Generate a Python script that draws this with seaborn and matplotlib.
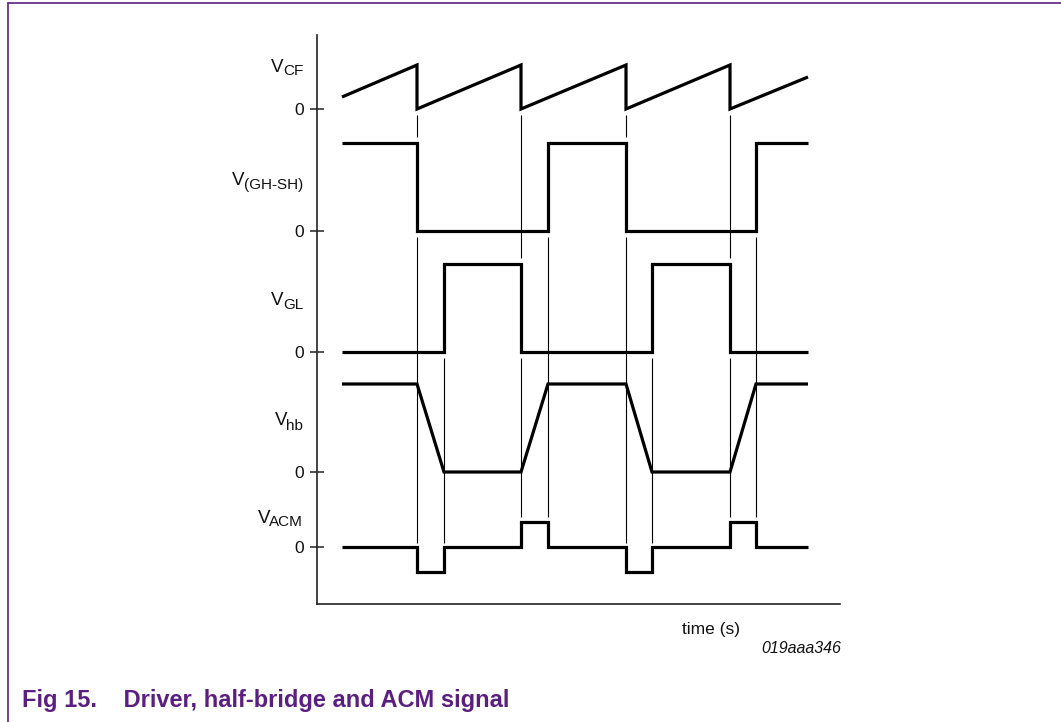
import numpy as np
import pandas as pd
import matplotlib
matplotlib.use("Agg")
import matplotlib.pyplot as plt
from matplotlib.lines import Line2D
import seaborn as sns

# ---- signal data (time axis in arbitrary units, amplitudes normalised) ----
vcf_t = [25, 100, 100, 204, 204, 309, 309, 413, 413, 491]
vcf_v = [12, 44, 0, 44, 0, 44, 0, 44, 0, 32]

gh_t = [25, 100, 100, 231, 231, 309, 309, 439, 439, 491]
gh_v = [88, 88, 0, 0, 88, 88, 0, 0, 88, 88]

gl_t = [25, 127, 127, 204, 204, 335, 335, 413, 413, 491]
gl_v = [0, 0, 88, 88, 0, 0, 88, 88, 0, 0]

hb_t = [25, 100, 127, 204, 231, 309, 335, 413, 439, 491]
hb_v = [88, 88, 0, 0, 88, 88, 0, 0, 88, 88]

acm_t = [25, 100, 100, 127, 127, 204, 204, 231, 231, 309, 309, 335, 335, 413, 413, 439, 439, 491]
acm_v = [0, 0, -25, -25, 0, 0, 25, 25, 0, 0, -25, -25, 0, 0, 25, 25, 0, 0]

signals = ["VCF", "GH", "GL", "HB", "ACM"]
sub_labels = ["CF", "(GH-SH)", "GL", "hb", "ACM"]

# switching instants
gh_fall = [100, 309]
gl_rise = [127, 335]
gl_fall = [204, 413]
gh_rise = [231, 439]

# ---- layout: vertical lane of each trace (zero level) ----
lane_zero = dict(VCF=495, GH=373, GL=252, HB=132, ACM=57)
high = 88
acm_step = 25

frames = []
for name, t, v in zip(signals, [vcf_t, gh_t, gl_t, hb_t, acm_t],
                      [vcf_v, gh_v, gl_v, hb_v, acm_v]):
    frames.append(pd.DataFrame({"t": t, "y": np.array(v) + lane_zero[name],
                                "signal": name, "order": range(len(t))}))
df = pd.concat(frames, ignore_index=True)

sns.set_theme(style="white")
plt.rcParams["font.family"] = ["Liberation Sans", "DejaVu Sans"]

W, H = 1061, 722
fig = plt.figure(figsize=(W / 100, H / 100), dpi=100)
ax = fig.add_axes([317 / W, (H - 604) / H, 523 / W, 569 / H])

# thin timing guides
g = 6
for t in gh_fall:
    ax.vlines(t, lane_zero["GH"] + high + g, lane_zero["VCF"] - g, color="black", lw=0.8)
    ax.vlines(t, lane_zero["ACM"] + 4, lane_zero["GH"] - g, color="black", lw=0.8)
for t in gl_rise:
    ax.vlines(t, lane_zero["ACM"] + 4, lane_zero["GL"] - g, color="black", lw=0.8)
for t in gl_fall:
    ax.vlines(t, lane_zero["GL"] + high + g, lane_zero["VCF"] - g, color="black", lw=0.8)
    ax.vlines(t, lane_zero["ACM"] + acm_step + 5, lane_zero["GL"] - g, color="black", lw=0.8)
for t in gh_rise:
    ax.vlines(t, lane_zero["ACM"] + acm_step + 5, lane_zero["GH"] - g, color="black", lw=0.8)

sns.lineplot(data=df, x="t", y="y", hue="signal", units="signal", estimator=None,
             sort=False, palette=["black"] * len(signals), legend=False, ax=ax,
             linewidth=2.3, solid_joinstyle="miter", solid_capstyle="butt")

ax.set_xlim(0, 523)
ax.set_ylim(0, 569)
ax.set_xlabel("")
ax.set_ylabel("")
for s in ["top", "right"]:
    ax.spines[s].set_visible(False)
for s in ["left", "bottom"]:
    ax.spines[s].set_visible(True)
    ax.spines[s].set_color("#222222")
    ax.spines[s].set_linewidth(1.2)
ax.set_xticks([])
ax.set_yticks([lane_zero[s] for s in signals])
ax.set_yticklabels(["0"] * len(signals))
ax.tick_params(axis="y", left=True, direction="inout", length=10, width=1.1,
               color="#222222", pad=4.5, labelsize=12.5, labelcolor="#111111")

# signal names: V with subscript
v_base = [72, 185, 305, 425, 523]
sub_base = [75, 189, 309, 430, 526]
fig.canvas.draw()
renderer = fig.canvas.get_renderer()
for sub, yb, ys in zip(sub_labels, v_base, sub_base):
    st = fig.text(303 / W, 1 - ys / H, sub, ha="right", va="baseline",
                  fontsize=11, color="#111111")
    bb = st.get_window_extent(renderer)
    fig.text((bb.x0 + 1) / W, 1 - yb / H, "V", ha="right", va="baseline",
             fontsize=13.5, color="#111111")

fig.text(682 / W, 1 - 634 / H, "time (s)", ha="left", va="baseline",
         fontsize=12.5, color="#111111")
fig.text(841 / W, 1 - 653 / H, "019aaa346", ha="right", va="baseline",
         fontsize=11.5, style="italic", color="#111111")

purple = "#5b1f80"
fig.text(22 / W, 1 - 707 / H, "Fig 15.    Driver, half-bridge and ACM signal",
         ha="left", va="baseline", fontsize=17, fontweight="bold", color=purple)

# page frame
fig.add_artist(Line2D([8 / W, 1], [1 - 3 / H, 1 - 3 / H], color=purple, lw=1.2,
                      transform=fig.transFigure))
fig.add_artist(Line2D([8 / W, 8 / W], [1 - 3 / H, 0], color=purple, lw=1.2,
                      transform=fig.transFigure))

fig.savefig("out.png", dpi=100)
